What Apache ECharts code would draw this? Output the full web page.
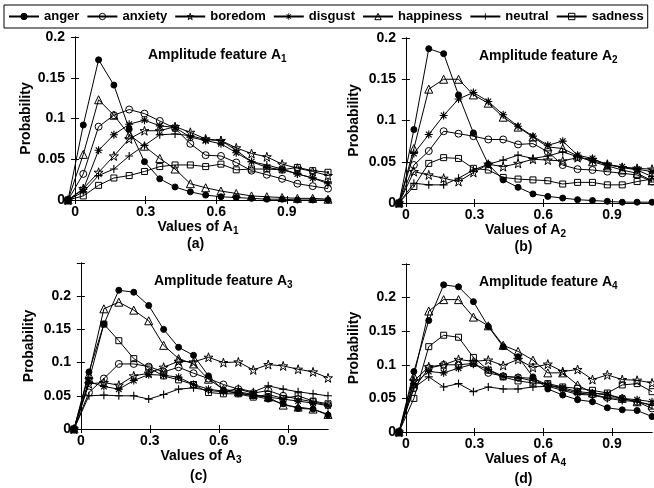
<!DOCTYPE html>
<html>
<head>
<meta charset="utf-8">
<script src="https://cdn.jsdelivr.net/npm/echarts@6/dist/echarts.min.js"></script>
<style>
  html, body { margin: 0; padding: 0; background: #fff; }
  #chart { width: 654px; height: 488px; }
</style>
</head>
<body>
<div id="chart"></div>
<script>
// bin centres shared by the four panels
const xValues = [-0.03, 0.035, 0.1, 0.165, 0.23, 0.295, 0.36, 0.425, 0.49, 0.555, 0.62, 0.685, 0.75, 0.815, 0.88, 0.945, 1.01, 1.075];
const xTicks = [0, 0.3, 0.6, 0.9];
const emotions = ['anger', 'anxiety', 'boredom', 'disgust', 'happiness', 'neutral', 'sadness'];

// (a) amplitude feature A1
const anger1 = [0, 0.092, 0.172, 0.141, 0.087, 0.047, 0.026, 0.016, 0.010, 0.006, 0.004, 0.003, 0.002, 0.001, 0.001, 0, 0, 0];
const anxiety1 = [0, 0.032, 0.090, 0.104, 0.111, 0.106, 0.097, 0.088, 0.069, 0.055, 0.054, 0.046, 0.036, 0.031, 0.026, 0.020, 0.017, 0.014];
const boredom1 = [0, 0.014, 0.034, 0.054, 0.075, 0.085, 0.085, 0.090, 0.083, 0.075, 0.073, 0.064, 0.057, 0.053, 0.044, 0.039, 0.035, 0.030];
const disgust1 = [0, 0.013, 0.061, 0.080, 0.093, 0.098, 0.091, 0.089, 0.077, 0.073, 0.069, 0.058, 0.047, 0.040, 0.037, 0.032, 0.027, 0.020];
const happiness1 = [0, 0.056, 0.123, 0.104, 0.080, 0.066, 0.051, 0.038, 0.020, 0.015, 0.011, 0.008, 0.005, 0.004, 0.003, 0.002, 0.002, 0.001];
const neutral1 = [0, 0.010, 0.030, 0.038, 0.054, 0.067, 0.080, 0.081, 0.079, 0.074, 0.073, 0.061, 0.047, 0.043, 0.038, 0.032, 0.027, 0.022];
const sadness1 = [0, 0.005, 0.018, 0.027, 0.030, 0.035, 0.041, 0.043, 0.043, 0.041, 0.044, 0.037, 0.038, 0.038, 0.037, 0.040, 0.036, 0.034];

// (b) amplitude feature A2
const anger2 = [0, 0.089, 0.187, 0.181, 0.131, 0.085, 0.047, 0.028, 0.019, 0.011, 0.008, 0.006, 0.004, 0.003, 0.002, 0.001, 0.001, 0.001];
const anxiety2 = [0, 0.046, 0.063, 0.087, 0.084, 0.081, 0.077, 0.077, 0.071, 0.072, 0.062, 0.046, 0.041, 0.040, 0.038, 0.036, 0.034, 0.026];
const boredom2 = [0, 0.038, 0.034, 0.030, 0.026, 0.037, 0.047, 0.044, 0.048, 0.053, 0.052, 0.051, 0.055, 0.053, 0.047, 0.043, 0.042, 0.041];
const disgust2 = [0, 0.060, 0.083, 0.106, 0.126, 0.134, 0.123, 0.107, 0.093, 0.081, 0.070, 0.075, 0.058, 0.054, 0.046, 0.044, 0.041, 0.038];
const happiness2 = [0, 0.066, 0.138, 0.150, 0.150, 0.131, 0.121, 0.104, 0.092, 0.080, 0.068, 0.066, 0.057, 0.050, 0.045, 0.040, 0.036, 0.027];
const neutral2 = [0, 0.024, 0.022, 0.022, 0.030, 0.040, 0.047, 0.052, 0.058, 0.054, 0.057, 0.062, 0.056, 0.051, 0.047, 0.043, 0.040, 0.032];
const sadness2 = [0, 0.020, 0.048, 0.055, 0.054, 0.042, 0.040, 0.031, 0.029, 0.028, 0.027, 0.023, 0.025, 0.025, 0.022, 0.022, 0.026, 0.029];

// (c) amplitude feature A3
const anger3 = [0, 0.086, 0.158, 0.209, 0.206, 0.186, 0.150, 0.123, 0.111, 0.080, 0.058, 0.054, 0.050, 0.045, 0.038, 0.031, 0.030, 0.021];
const anxiety3 = [0, 0.055, 0.076, 0.098, 0.098, 0.094, 0.086, 0.093, 0.084, 0.076, 0.067, 0.060, 0.054, 0.058, 0.050, 0.045, 0.041, 0.036];
const boredom3 = [0, 0.068, 0.070, 0.066, 0.080, 0.084, 0.093, 0.102, 0.101, 0.108, 0.100, 0.101, 0.089, 0.097, 0.095, 0.090, 0.086, 0.077];
const disgust3 = [0, 0.071, 0.064, 0.060, 0.073, 0.082, 0.081, 0.078, 0.067, 0.060, 0.057, 0.054, 0.051, 0.048, 0.045, 0.042, 0.039, 0.035];
const happiness3 = [0, 0.082, 0.181, 0.191, 0.179, 0.163, 0.126, 0.106, 0.098, 0.075, 0.060, 0.056, 0.052, 0.048, 0.036, 0.033, 0.030, 0.022];
const neutral3 = [0, 0.050, 0.051, 0.050, 0.050, 0.045, 0.052, 0.060, 0.062, 0.058, 0.056, 0.061, 0.056, 0.065, 0.060, 0.056, 0.053, 0.050];
const sadness3 = [0, 0.073, 0.158, 0.133, 0.106, 0.092, 0.080, 0.074, 0.067, 0.055, 0.053, 0.053, 0.048, 0.052, 0.046, 0.050, 0.042, 0.038];

// (d) amplitude feature A4
const anger4 = [0, 0.090, 0.166, 0.219, 0.216, 0.194, 0.157, 0.127, 0.112, 0.082, 0.064, 0.055, 0.048, 0.045, 0.036, 0.033, 0.032, 0.023];
const anxiety4 = [0, 0.065, 0.095, 0.100, 0.100, 0.102, 0.088, 0.083, 0.081, 0.076, 0.070, 0.064, 0.058, 0.056, 0.051, 0.050, 0.045, 0.035];
const boredom4 = [0, 0.076, 0.097, 0.100, 0.108, 0.105, 0.107, 0.099, 0.108, 0.096, 0.101, 0.090, 0.093, 0.078, 0.085, 0.078, 0.077, 0.073];
const disgust4 = [0, 0.072, 0.090, 0.088, 0.095, 0.101, 0.093, 0.083, 0.081, 0.080, 0.070, 0.066, 0.060, 0.058, 0.056, 0.050, 0.048, 0.045];
const happiness4 = [0, 0.083, 0.180, 0.197, 0.197, 0.171, 0.158, 0.129, 0.120, 0.107, 0.088, 0.088, 0.070, 0.058, 0.055, 0.050, 0.045, 0.040];
const neutral4 = [0, 0.066, 0.082, 0.067, 0.072, 0.060, 0.067, 0.064, 0.064, 0.067, 0.068, 0.062, 0.056, 0.055, 0.050, 0.047, 0.045, 0.040];
const sadness4 = [0, 0.050, 0.127, 0.144, 0.141, 0.111, 0.092, 0.082, 0.076, 0.073, 0.072, 0.067, 0.065, 0.062, 0.058, 0.070, 0.072, 0.060];

const panelData = [
  [anger1, anxiety1, boredom1, disgust1, happiness1, neutral1, sadness1],
  [anger2, anxiety2, boredom2, disgust2, happiness2, neutral2, sadness2],
  [anger3, anxiety3, boredom3, disgust3, happiness3, neutral3, sadness3],
  [anger4, anxiety4, boredom4, disgust4, happiness4, neutral4, sadness4]
];
const panelTags = ['(a)', '(b)', '(c)', '(d)'];
const panelYMax = [0.2, 0.2, 0.25, 0.25];

// plot boxes in pixels
const boxes = [
  { left: 68, top: 37, width: 260, height: 163 },
  { left: 399, top: 38, width: 253, height: 165 },
  { left: 74, top: 263, width: 254, height: 166 },
  { left: 399, top: 264, width: 253, height: 168 }
];

const FONT = '"Liberation Sans", Arial, Helvetica, sans-serif';
const STAR = 'path://M10,0L12.25,6.91L19.51,6.91L13.63,11.18L15.88,18.09L10,13.82L4.12,18.09L6.37,11.18L0.49,6.91L7.76,6.91Z';
const PLUS = 'path://M8.6,0H11.4V8.6H20V11.4H11.4V20H8.6V11.4H0V8.6H8.6Z';
const ASTER = 'path://M0,8.6H20V11.4H0Z M8.6,0H11.4V20H8.6Z M3.9,1.9L18.1,16.1L16.1,18.1L1.9,3.9Z M16.1,1.9L18.1,3.9L3.9,18.1L1.9,16.1Z';
const HOLLOW = 'rgba(255,255,255,0)';

// marker per emotion (matlab style)
const markers = {
  anger: { symbol: 'circle', size: 6, fill: '#000' },
  anxiety: { symbol: 'circle', size: 7, fill: HOLLOW },
  boredom: { symbol: STAR, size: 9, fill: HOLLOW },
  disgust: { symbol: ASTER, size: 8, fill: '#000', solid: true },
  happiness: { symbol: 'triangle', size: 8, fill: HOLLOW },
  neutral: { symbol: PLUS, size: 8, fill: '#000', solid: true },
  sadness: { symbol: 'rect', size: 6, fill: HOLLOW }
};

function markerStyle(mk) {
  return mk.solid
    ? { color: mk.fill, borderWidth: 0 }
    : { color: mk.fill, borderColor: '#000', borderWidth: 1 };
}

const labelStyle = { fontFamily: FONT, fontWeight: 'bold', fontSize: 14, color: '#000' };
const axisLine = { show: true, lineStyle: { color: '#000', width: 1 } };
const subRich = (size) => ({
  m: { fontFamily: FONT, fontWeight: 'bold', fontSize: size, color: '#000', lineHeight: 18, verticalAlign: 'middle' },
  s: { fontFamily: FONT, fontWeight: 'bold', fontSize: 10, color: '#000', lineHeight: 10, verticalAlign: 'bottom' }
});

const grid = [];
const xAxis = [];
const yAxis = [];
const series = [];
const graphic = [];

boxes.forEach((b, i) => {
  grid.push({ left: b.left, top: b.top, width: b.width, height: b.height, containLabel: false });
  const n = i + 1;
  // bottom axis with labels
  xAxis.push({
    type: 'value', gridIndex: i, min: -0.03, max: 1.075, position: 'bottom',
    axisLine: axisLine, splitLine: { show: false },
    axisTick: { show: true, inside: true, length: 4, customValues: xTicks, lineStyle: { color: '#000' } },
    axisLabel: { show: true, customValues: xTicks, margin: 5, formatter: v => String(v), ...labelStyle },
    name: '{m|Values of A}{s|' + n + '}', nameLocation: 'middle', nameGap: 17,
    nameTextStyle: { rich: subRich(14) }
  });
  // top edge of the box
  xAxis.push({
    type: 'value', gridIndex: i, min: -0.03, max: 1.075, position: 'top',
    axisLine: axisLine, splitLine: { show: false },
    axisTick: { show: true, inside: true, length: 4, customValues: xTicks, lineStyle: { color: '#000' } },
    axisLabel: { show: false }
  });
  const yMax = panelYMax[i];
  yAxis.push({
    type: 'value', gridIndex: i, min: 0, max: yMax, interval: 0.05, position: 'left',
    axisLine: axisLine, splitLine: { show: false },
    axisTick: { show: true, inside: true, length: 4, lineStyle: { color: '#000' } },
    axisLabel: {
      margin: 3,
      formatter: v => (v > 0.21 ? '' : String(+v.toFixed(2))),
      ...labelStyle
    },
    name: 'Probability', nameLocation: 'middle', nameRotate: 90,
    nameGap: i === 0 ? 35 : 38,
    nameTextStyle: { ...labelStyle }
  });
  yAxis.push({
    type: 'value', gridIndex: i, min: 0, max: yMax, interval: 0.05, position: 'right',
    axisLine: axisLine, splitLine: { show: false },
    axisTick: { show: true, inside: true, length: 4, lineStyle: { color: '#000' } },
    axisLabel: { show: false }
  });

  emotions.forEach((emo, j) => {
    const mk = markers[emo];
    series.push({
      name: emo,
      type: 'line',
      xAxisIndex: 2 * i,
      yAxisIndex: 2 * i,
      data: xValues.map((x, k) => [x, panelData[i][j][k]]),
      symbol: mk.symbol,
      symbolSize: mk.size,
      showSymbol: true,
      clip: false,
      lineStyle: { color: '#000', width: 1 },
      itemStyle: markerStyle(mk),
      emphasis: { disabled: true },
      z: 3
    });
  });

  // panel title inside the box
  graphic.push({
    type: 'text',
    left: b.left + 80,
    top: b.top + 11,
    style: { text: '{m|Amplitude feature A}{s|' + n + '}', rich: subRich(14) }
  });
  // (a)..(d) caption
  graphic.push({
    type: 'text',
    left: b.left + b.width / 2 - 11,
    top: b.top + b.height + (i < 2 ? 37 : 40),
    style: { text: panelTags[i], font: 'bold 14px ' + FONT, fill: '#000' }
  });
});

const chart = echarts.init(document.getElementById('chart'), null, { renderer: 'canvas' });
chart.setOption({
  animation: false,
  backgroundColor: '#fff',
  legend: {
    data: emotions.map(emo => ({
      name: emo,
      itemStyle: markerStyle(markers[emo])
    })),
    left: 4,
    top: 5,
    width: 646,
    padding: [5, 4],
    itemGap: 7,
    itemWidth: 30,
    itemHeight: 8,
    borderColor: '#000',
    borderWidth: 1,
    textStyle: { fontFamily: FONT, fontWeight: 'bold', fontSize: 13, color: '#000' },
    selectedMode: false
  },
  grid: grid,
  xAxis: xAxis,
  yAxis: yAxis,
  series: series,
  graphic: graphic
});
</script>
</body>
</html>
